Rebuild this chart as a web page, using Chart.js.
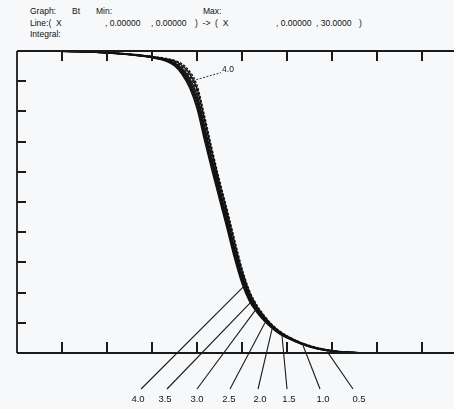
<!DOCTYPE html>
<html>
<head>
<meta charset="utf-8">
<script src="https://cdn.jsdelivr.net/npm/chart.js@4.4.1/dist/chart.umd.min.js"></script>
<style>
  html, body { margin:0; padding:0; width:454px; height:409px; overflow:hidden; background:#f7f8fa; }
  #wrap { position:absolute; left:0; top:0; width:480px; height:409px; }
  .h { position:absolute; font-family:"Liberation Sans", Arial, sans-serif; font-size:8.5px; line-height:10px; color:#111; white-space:pre; }
</style>
</head>
<body>
<div class="h" style="left:30px;top:6px">Graph:</div>
<div class="h" style="left:72px;top:6px">Bt</div>
<div class="h" style="left:96px;top:6px">Min:</div>
<div class="h" style="left:203px;top:6px">Max:</div>
<div class="h" style="left:30px;top:18px">Line:(  X</div>
<div class="h" style="left:105px;top:18px">, 0.00000</div>
<div class="h" style="left:151px;top:18px">, 0.00000</div>
<div class="h" style="left:195px;top:18px">)  -&gt;  (  X</div>
<div class="h" style="left:276px;top:18px">, 0.00000</div>
<div class="h" style="left:316px;top:18px">, 30.0000</div>
<div class="h" style="left:359px;top:18px">)</div>
<div class="h" style="left:30px;top:29px">Integral:</div>
<div id="wrap"><canvas id="c" width="480" height="409"></canvas></div>
<script>
// ---- data ----
const T = [0,4,7,9,10,10.5,11,11.5,12,12.5,13,13.5,14,14.5,15,15.5,16,16.5,17,17.5,18,19,20,21,22,24,30];
const seriesLabels = ['0.5','1.0','1.5','2.0','2.5','3.0','3.5','4.0'];
const v05 = [1.000,0.998,0.990,0.978,0.965,0.951,0.923,0.879,0.809,0.704,0.604,0.508,0.413,0.314,0.230,0.171,0.134,0.105,0.082,0.063,0.050,0.029,0.014,0.006,0.003,0,0];
const v10 = [1.000,0.998,0.990,0.978,0.967,0.953,0.928,0.887,0.820,0.716,0.614,0.517,0.422,0.323,0.237,0.176,0.138,0.108,0.084,0.065,0.051,0.029,0.015,0.006,0.003,0,0];
const v15 = [1.000,0.998,0.991,0.979,0.968,0.956,0.933,0.894,0.831,0.728,0.625,0.526,0.431,0.332,0.244,0.181,0.141,0.110,0.085,0.066,0.052,0.030,0.015,0.007,0.003,0,0];
const v20 = [1.000,0.998,0.991,0.980,0.969,0.959,0.938,0.902,0.842,0.739,0.635,0.535,0.440,0.341,0.251,0.186,0.144,0.113,0.087,0.067,0.053,0.031,0.016,0.007,0.003,0,0];
const v25 = [1.000,0.998,0.991,0.980,0.971,0.961,0.942,0.910,0.854,0.751,0.645,0.545,0.450,0.349,0.259,0.191,0.148,0.115,0.089,0.069,0.054,0.031,0.016,0.007,0.003,0,0];
const v30 = [1.000,0.998,0.991,0.981,0.972,0.964,0.947,0.918,0.865,0.762,0.655,0.554,0.459,0.358,0.266,0.196,0.151,0.118,0.091,0.070,0.055,0.032,0.017,0.007,0.003,0,0];
const v35 = [1.000,0.998,0.992,0.982,0.973,0.967,0.952,0.926,0.876,0.774,0.666,0.563,0.468,0.367,0.273,0.201,0.154,0.120,0.092,0.072,0.056,0.033,0.017,0.008,0.003,0,0];
const v40 = [1.000,0.998,0.992,0.982,0.975,0.969,0.957,0.933,0.887,0.786,0.676,0.572,0.477,0.376,0.280,0.206,0.158,0.123,0.094,0.073,0.057,0.033,0.018,0.008,0.003,0,0];
const xTicks = [3,6,9,12,15,18,21,24,27];
const yTicks = [0.1,0.2,0.3,0.4,0.5,0.6,0.7,0.8,0.9];
// callouts: label text, t where the leader touches the bundle
const calloutLabels = ['4.0','3.5','3.0','2.5','2.0','1.5','1.0','0.5'];
const calloutCurveT = [15.07,15.53,15.87,16.53,17.0,17.67,19.07,20.67];
const topCalloutLabel = '4.0';
const topCalloutT = 11.73;

// ---- layout (not data) ----
const calloutLabelT = [8.07,9.87,12.0,14.13,16.2,18.13,20.4,22.8];
const calloutEndT   = [8.27,10.0,12.0,14.2,16.07,18.0,20.2,22.4];

const allSeries = [v05,v10,v15,v20,v25,v30,v35,v40];
const dashes = [[],[],[],[],[],[3,1.5],[],[2.5,1.5]];

const datasets = allSeries.map((vals, i) => ({
  label: seriesLabels[i],
  data: T.map((t, j) => ({x: t, y: vals[j]})),
  borderColor: '#121212',
  borderWidth: 1.4,
  borderDash: dashes[i],
  pointRadius: 0,
  fill: false,
  cubicInterpolationMode: 'monotone'
}));

function interp(vals, t) {
  for (let j = 0; j < T.length - 1; j++) {
    if (t >= T[j] && t <= T[j+1]) {
      const f = (t - T[j]) / (T[j+1] - T[j]);
      return vals[j] + f * (vals[j+1] - vals[j]);
    }
  }
  return vals[vals.length - 1];
}

const framePlugin = {
  id: 'frame',
  afterDatasetsDraw(chart) {
    const {ctx, chartArea: a, scales: {x, y}} = chart;
    ctx.save();
    ctx.strokeStyle = '#1a1a1a';
    ctx.lineWidth = 1.8;
    ctx.beginPath();
    ctx.moveTo(a.left, a.top); ctx.lineTo(a.right + 20, a.top);
    ctx.moveTo(a.left, a.bottom); ctx.lineTo(a.right + 20, a.bottom);
    ctx.moveTo(a.left, a.top); ctx.lineTo(a.left, a.bottom);
    ctx.stroke();
    ctx.lineWidth = 2;
    ctx.beginPath();
    xTicks.forEach(v => {
      const px = Math.round(x.getPixelForValue(v));
      ctx.moveTo(px, a.top); ctx.lineTo(px, a.top + 10);
      ctx.moveTo(px, a.bottom); ctx.lineTo(px, a.bottom - 11);
    });
    yTicks.forEach(v => {
      const py = Math.round(y.getPixelForValue(v));
      ctx.moveTo(a.left, py); ctx.lineTo(a.left + 9, py);
    });
    ctx.stroke();

    // bottom callouts
    ctx.lineWidth = 1.1;
    ctx.strokeStyle = '#1a1a1a';
    ctx.fillStyle = '#151515';
    ctx.font = '9.5px "Liberation Sans", Arial, sans-serif';
    ctx.textAlign = 'center';
    ctx.textBaseline = 'middle';
    const endY = a.bottom + 36;
    const labY = a.bottom + 46;
    calloutLabels.forEach((lab, i) => {
      const t = calloutCurveT[i];
      const vmin = Math.min(...allSeries.map(s => interp(s, t)));
      const x0 = x.getPixelForValue(t), y0 = y.getPixelForValue(vmin) + 1;
      const x1 = x.getPixelForValue(calloutEndT[i]);
      ctx.beginPath(); ctx.moveTo(x0, y0); ctx.lineTo(x1, endY); ctx.stroke();
      ctx.fillText(lab, x.getPixelForValue(calloutLabelT[i]), labY);
    });

    // top callout (dashed)
    const tx = x.getPixelForValue(topCalloutT), ty = y.getPixelForValue(interp(v40, topCalloutT)) + 3;
    ctx.setLineDash([2, 1.5]);
    ctx.lineWidth = 0.9;
    ctx.beginPath(); ctx.moveTo(tx, ty); ctx.lineTo(tx + 28, ty - 8); ctx.stroke();
    ctx.setLineDash([]);
    ctx.font = '8.5px "Liberation Sans", Arial, sans-serif';
    ctx.fillText(topCalloutLabel, tx + 35, ty - 11);
    ctx.restore();
  }
};

new Chart(document.getElementById('c'), {
  type: 'line',
  data: { datasets },
  options: {
    responsive: false,
    animation: false,
    devicePixelRatio: 1,
    layout: { padding: { left: 17, top: 51, right: 13, bottom: 56 } },
    plugins: { legend: { display: false }, tooltip: { enabled: false } },
    scales: {
      x: { type: 'linear', min: 0, max: 30, display: false },
      y: { type: 'linear', min: 0, max: 1, display: false }
    }
  },
  plugins: [framePlugin]
});
</script>
</body>
</html>
